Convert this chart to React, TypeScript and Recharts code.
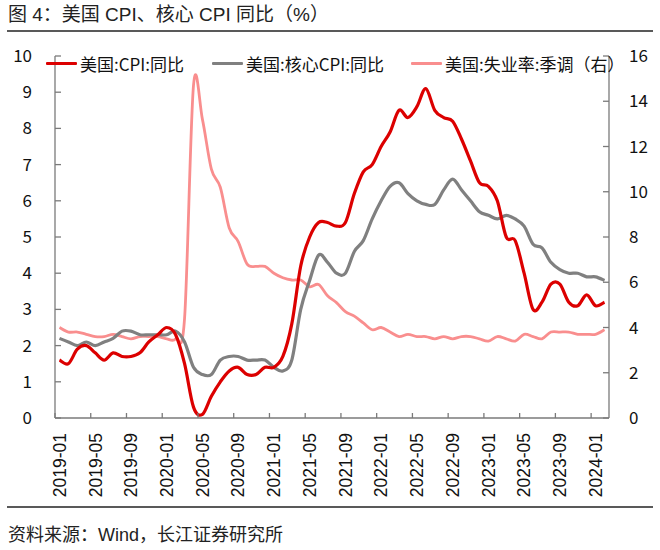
import { LineChart, Line, XAxis, YAxis } from "recharts";

const MONTHS = [
  "2019-01", "2019-02", "2019-03", "2019-04", "2019-05", "2019-06", "2019-07", "2019-08", "2019-09", "2019-10", "2019-11", "2019-12",
  "2020-01", "2020-02", "2020-03", "2020-04", "2020-05", "2020-06", "2020-07", "2020-08", "2020-09", "2020-10", "2020-11", "2020-12",
  "2021-01", "2021-02", "2021-03", "2021-04", "2021-05", "2021-06", "2021-07", "2021-08", "2021-09", "2021-10", "2021-11", "2021-12",
  "2022-01", "2022-02", "2022-03", "2022-04", "2022-05", "2022-06", "2022-07", "2022-08", "2022-09", "2022-10", "2022-11", "2022-12",
  "2023-01", "2023-02", "2023-03", "2023-04", "2023-05", "2023-06", "2023-07", "2023-08", "2023-09", "2023-10", "2023-11", "2023-12",
  "2024-01", "2024-02",
];

// 美国:CPI:同比 (%)
const CPI = [
  1.6, 1.5, 1.9, 2.0, 1.8, 1.6, 1.8, 1.7, 1.7, 1.8, 2.1, 2.3,
  2.5, 2.3, 1.5, 0.3, 0.1, 0.6, 1.0, 1.3, 1.4, 1.2, 1.2, 1.4,
  1.4, 1.7, 2.6, 4.2, 5.0, 5.4, 5.4, 5.3, 5.4, 6.2, 6.8, 7.0,
  7.5, 7.9, 8.5, 8.3, 8.6, 9.1, 8.5, 8.3, 8.2, 7.7, 7.1, 6.5,
  6.4, 6.0, 5.0, 4.9, 4.0, 3.0, 3.2, 3.7, 3.7, 3.2, 3.1, 3.4,
  3.1, 3.2,
];

// 美国:核心CPI:同比 (%)
const CORE_CPI = [
  2.2, 2.1, 2.0, 2.1, 2.0, 2.1, 2.2, 2.4, 2.4, 2.3, 2.3, 2.3,
  2.3, 2.4, 2.1, 1.4, 1.2, 1.2, 1.6, 1.7, 1.7, 1.6, 1.6, 1.6,
  1.4, 1.3, 1.6, 3.0, 3.8, 4.5, 4.3, 4.0, 4.0, 4.6, 4.9, 5.5,
  6.0, 6.4, 6.5, 6.2, 6.0, 5.9, 5.9, 6.3, 6.6, 6.3, 6.0, 5.7,
  5.6, 5.5, 5.6, 5.5, 5.3, 4.8, 4.7, 4.3, 4.1, 4.0, 4.0, 3.9,
  3.9, 3.8,
];

// 美国:失业率:季调 (%, right axis)
const UNEMPLOYMENT = [
  4.0, 3.8, 3.8, 3.7, 3.6, 3.6, 3.7, 3.6, 3.5, 3.6, 3.6, 3.6,
  3.5, 3.5, 4.4, 14.7, 13.2, 11.0, 10.2, 8.4, 7.8, 6.8, 6.7, 6.7,
  6.4, 6.2, 6.1, 6.1, 5.8, 5.9, 5.4, 5.1, 4.7, 4.5, 4.2, 3.9,
  4.0, 3.8, 3.6, 3.7, 3.6, 3.6, 3.5, 3.6, 3.5, 3.6, 3.6, 3.5,
  3.4, 3.6, 3.5, 3.4, 3.7, 3.6, 3.5, 3.8, 3.8, 3.8, 3.7, 3.7,
  3.7, 3.9,
];

const X_TICKS = [0, 4, 8, 12, 16, 20, 24, 28, 32, 36, 40, 44, 48, 52, 56, 60];
const LEFT_TICKS = [0, 1, 2, 3, 4, 5, 6, 7, 8, 9, 10];
const RIGHT_TICKS = [0, 2, 4, 6, 8, 10, 12, 14, 16];

const SERIES = [
  { key: "cpi", name: "美国:CPI:同比", color: "#DC0000", axis: "left", width: 3.2 },
  { key: "core", name: "美国:核心CPI:同比", color: "#808080", axis: "left", width: 3.2 },
  { key: "unemp", name: "美国:失业率:季调（右）", color: "#F98E8E", axis: "right", width: 2.8 },
];

const data = MONTHS.map((month, i) => ({
  i,
  month,
  cpi: CPI[i],
  core: CORE_CPI[i],
  unemp: UNEMPLOYMENT[i],
}));

const W = 660;
const H = 550;
const LEFT_W = 55;
const RIGHT_W = 51;
const TOP = 56;
const X_AXIS_H = 132;
const HALF_STEP = (W - LEFT_W - RIGHT_W) / MONTHS.length / 2;
const AXIS_COLOR = "#7a7a7a";
const FONT = '"Liberation Sans", "Noto Sans CJK SC", sans-serif';
const CJK_FONT = '"Noto Sans CJK SC", "Liberation Sans", sans-serif';

// Excel-style smoothed line (Catmull-Rom through the points)
function excelSmooth(context: any) {
  let pts: number[][] = [];
  return {
    areaStart() {},
    areaEnd() {},
    lineStart() {
      pts = [];
    },
    point(x: number, y: number) {
      pts.push([+x, +y]);
    },
    lineEnd() {
      if (!pts.length) return;
      context.moveTo(pts[0][0], pts[0][1]);
      for (let k = 0; k < pts.length - 1; k++) {
        const p0 = pts[k - 1] || pts[k];
        const p1 = pts[k];
        const p2 = pts[k + 1];
        const p3 = pts[k + 2] || p2;
        context.bezierCurveTo(
          p1[0] + (p2[0] - p0[0]) / 6,
          p1[1] + (p2[1] - p0[1]) / 6,
          p2[0] - (p3[0] - p1[0]) / 6,
          p2[1] - (p3[1] - p1[1]) / 6,
          p2[0],
          p2[1]
        );
      }
    },
  };
}

function MonthTick({ x, y, payload }: any) {
  const label = MONTHS[payload.value] ?? "";
  return (
    <g>
      <line x1={x - HALF_STEP} y1={y} x2={x - HALF_STEP} y2={y - 5} stroke={AXIS_COLOR} strokeWidth={1.3} />
      <text
        x={x}
        y={y + 15}
        transform={`rotate(-90, ${x}, ${y + 15})`}
        textAnchor="end"
        dy="0.36em"
        fontSize={17.5}
        fontFamily={FONT}
        fill="#111"
      >
        {label}
      </text>
    </g>
  );
}

function LegendRow() {
  const lefts = [46, 212, 411];
  return (
    <>
      {SERIES.map((s, idx) => (
        <div
          key={s.key}
          style={{
            position: "absolute",
            left: lefts[idx],
            top: 52,
            height: 22,
            display: "flex",
            alignItems: "center",
            gap: 3,
            fontFamily: CJK_FONT,
            fontSize: 17,
            color: "#111",
            whiteSpace: "nowrap",
          }}
        >
          <span style={{ display: "inline-block", width: 31, height: 3, background: s.color, borderRadius: 1 }} />
          <span>{s.name}</span>
        </div>
      ))}
    </>
  );
}

export default function App() {
  return (
    <div style={{ position: "absolute", left: 0, top: 0, width: W, height: H, background: "#fff", overflow: "hidden" }}>
      <div
        style={{
          position: "absolute",
          left: 8,
          top: 4,
          fontFamily: FONT,
          fontSize: 19,
          lineHeight: "22px",
          color: "#222",
          whiteSpace: "nowrap",
        }}
      >
        图 4：美国 CPI、核心 CPI 同比（%）
      </div>
      <div style={{ position: "absolute", left: 7, top: 30, width: 646, height: 2, background: "#595959" }} />

      <LineChart width={W} height={H} data={data} margin={{ top: TOP, right: 0, bottom: 0, left: 0 }}>
        <XAxis
          dataKey="i"
          type="number"
          domain={[-0.5, MONTHS.length - 0.5]}
          ticks={X_TICKS}
          interval={0}
          height={X_AXIS_H}
          tickSize={0}
          tickMargin={0}
          tickLine={false}
          axisLine={{ stroke: AXIS_COLOR, strokeWidth: 1.3 }}
          tick={<MonthTick />}
        />
        <YAxis
          yAxisId="left"
          orientation="left"
          width={LEFT_W}
          domain={[0, 10]}
          ticks={LEFT_TICKS}
          interval={0}
          tickSize={-6}
          tickMargin={29}
          axisLine={{ stroke: AXIS_COLOR, strokeWidth: 1.3 }}
          tickLine={{ stroke: AXIS_COLOR, strokeWidth: 1.3 }}
          tick={{ fill: "#111", fontSize: 17, fontFamily: CJK_FONT }}
        />
        <YAxis
          yAxisId="right"
          orientation="right"
          width={RIGHT_W}
          domain={[0, 16]}
          ticks={RIGHT_TICKS}
          interval={0}
          tickSize={-6}
          tickMargin={26}
          axisLine={{ stroke: AXIS_COLOR, strokeWidth: 1.3 }}
          tickLine={{ stroke: AXIS_COLOR, strokeWidth: 1.3 }}
          tick={{ fill: "#111", fontSize: 17, fontFamily: CJK_FONT, textAnchor: "start" }}
        />
        {[...SERIES].reverse().map((s) => (
          <Line
            key={s.key}
            yAxisId={s.axis}
            dataKey={s.key}
            name={s.name}
            type={excelSmooth as any}
            stroke={s.color}
            strokeWidth={s.width}
            strokeLinejoin="round"
            dot={false}
            activeDot={false}
            isAnimationActive={false}
          />
        ))}
      </LineChart>

      <LegendRow />

      <div style={{ position: "absolute", left: 7, top: 506, width: 646, height: 2, background: "#595959" }} />
      <div
        style={{
          position: "absolute",
          left: 8,
          top: 524,
          fontFamily: FONT,
          fontSize: 18,
          lineHeight: "22px",
          color: "#222",
          whiteSpace: "nowrap",
        }}
      >
        资料来源：Wind，长江证券研究所
      </div>
    </div>
  );
}
